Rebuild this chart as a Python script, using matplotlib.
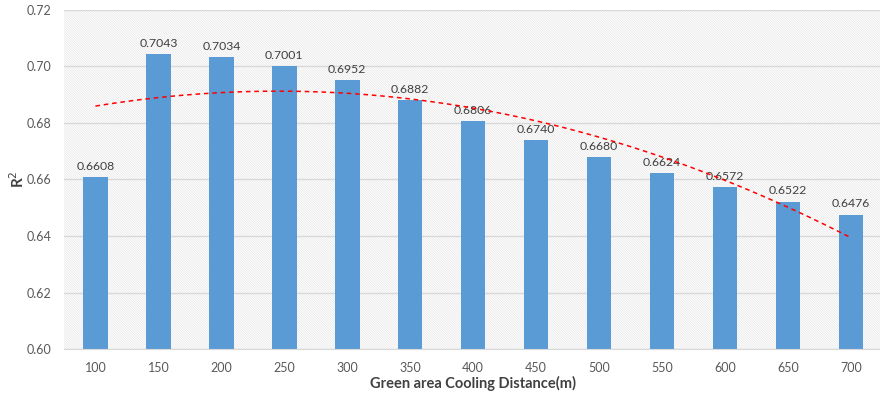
import numpy as np
import matplotlib.pyplot as plt
from matplotlib.patches import Rectangle

plt.rcParams['font.family'] = ['Lato', 'DejaVu Sans']
plt.rcParams['hatch.linewidth'] = 0.5

# data
distances = [100, 150, 200, 250, 300, 350, 400, 450, 500, 550, 600, 650, 700]
r2 = [0.6608, 0.7043, 0.7034, 0.7001, 0.6952, 0.6882, 0.6806,
      0.6740, 0.6680, 0.6624, 0.6572, 0.6522, 0.6476]

fig = plt.figure(figsize=(8.8, 3.94), dpi=100)
ax = fig.add_axes([0.0727, 0.114, 0.93, 0.861])

pos = np.arange(len(distances))
# light diagonal hatch on the plot area background
ax.add_patch(Rectangle((0, 0), 1, 1, transform=ax.transAxes, facecolor='none',
                       edgecolor='#e6e6e6', hatch='\\' * 14, linewidth=0, zorder=0))
ax.set_axisbelow(True)
ax.grid(axis='y', color='#d9d9d9', linewidth=1, zorder=1)

ax.bar(pos, r2, width=0.39, color='#5b9bd5', zorder=2)
for p, v in zip(pos, r2):
    ax.text(p, v + 0.0018, f"{v:.4f}", ha='center', va='bottom', fontsize=8.8, color='#404040', zorder=3)

# polynomial trend line (2nd order, like excel)
coef = np.polyfit(pos + 1, r2, 2)
xs = np.linspace(0, 12, 200)
ax.plot(xs, np.polyval(coef, xs + 1), '--', color='red', linewidth=1.1, dashes=(3, 2.5), zorder=4)

ax.set_ylim(0.60, 0.72)
ax.set_yticks(np.arange(0.60, 0.7201, 0.02))
ax.yaxis.set_major_formatter(plt.FormatStrFormatter('%.2f'))
ax.set_xlim(-0.5, 12.5)
ax.set_xticks(pos)
ax.set_xticklabels([str(d) for d in distances])
ax.tick_params(colors='#595959', labelsize=9, length=0, pad=9)
for s in ['top', 'right', 'left']:
    ax.spines[s].set_visible(False)
ax.spines['bottom'].set_color('#d9d9d9')

ax.set_xlabel('Green area Cooling Distance(m)', fontsize=10.5, fontweight='bold', color='#404040', labelpad=2)
ax.set_ylabel('R$^2$', fontsize=11, fontweight='bold', color='#404040', labelpad=0)

fig.savefig('out.png', dpi=100)
